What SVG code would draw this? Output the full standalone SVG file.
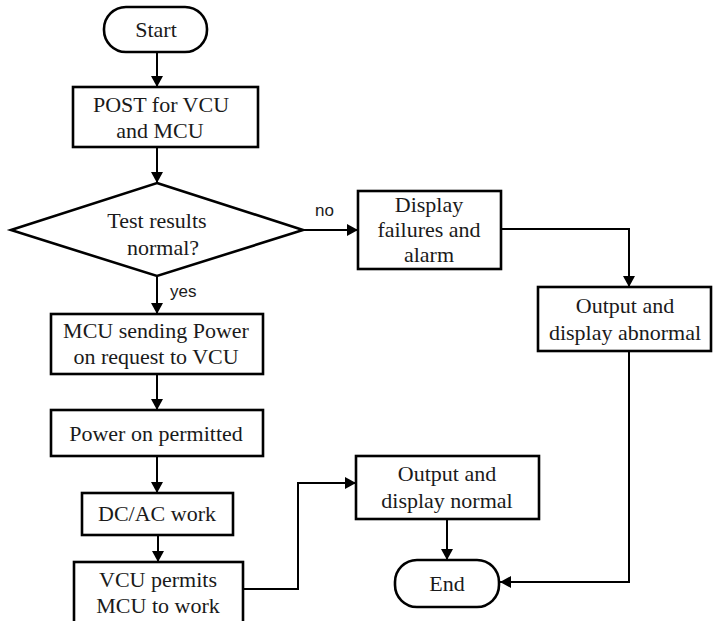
<svg xmlns="http://www.w3.org/2000/svg" width="714" height="621" viewBox="0 0 714 621">
  <style>
    .box { fill: #fff; stroke: #000; stroke-width: 2.6; }
    .lbl { font-family: 'Liberation Serif', 'DejaVu Serif', serif; font-size: 22px; fill: #1a1a1a; text-anchor: middle; }
    .tag { font-family: 'Liberation Sans', 'DejaVu Sans', sans-serif; font-size: 17px; fill: #1a1a1a; }
    .edge { fill: none; stroke: #000; stroke-width: 2; marker-end: url(#arrow); }
  </style>
  <defs>
    <marker id="arrow" markerUnits="userSpaceOnUse" markerWidth="12" markerHeight="12" refX="11" refY="6" orient="auto">
      <path d="M0,0 L11,6 L0,12 z" fill="#000"/>
    </marker>
  </defs>
  <rect width="714" height="621" fill="#fff"/>

  <g id="connectors">
    <path class="edge" d="M157,52 V87"/>
    <path class="edge" d="M157,147 V183"/>
    <path class="edge" d="M303,230 H358"/>
    <path class="edge" d="M157,276 V314"/>
    <path class="edge" d="M157,374 V410"/>
    <path class="edge" d="M157,456 V493"/>
    <path class="edge" d="M158,535 V562"/>
    <path class="edge" d="M501,229 H629 V287"/>
    <path class="edge" d="M243,589 H298 V483 H356"/>
    <path class="edge" d="M447,519 V560"/>
    <path class="edge" d="M629,351 V582 H500"/>
    <text class="tag" x="315" y="216">no</text>
    <text class="tag" x="170" y="297">yes</text>
  </g>

  <g id="start">
    <rect class="box" x="104" y="7" width="103" height="45" rx="22" ry="22"/>
    <text class="lbl" x="156" y="37">Start</text>
  </g>

  <g id="post">
    <rect class="box" x="73" y="87" width="185" height="60"/>
    <text class="lbl" x="161" y="112">POST for VCU</text>
    <text class="lbl" x="160" y="138">and MCU</text>
  </g>

  <g id="test">
    <polygon class="box" points="157,183 303,230 157,276 11,230"/>
    <text class="lbl" x="157" y="228">Test results</text>
    <text class="lbl" x="163" y="255">normal?</text>
  </g>

  <g id="display-failures">
    <rect class="box" x="358" y="191" width="143" height="78"/>
    <text class="lbl" x="429" y="212">Display</text>
    <text class="lbl" x="429" y="237">failures and</text>
    <text class="lbl" x="429" y="262">alarm</text>
  </g>

  <g id="output-abnormal">
    <rect class="box" x="538" y="287" width="173" height="64"/>
    <text class="lbl" x="625" y="313">Output and</text>
    <text class="lbl" x="625" y="340">display abnormal</text>
  </g>

  <g id="power-request">
    <rect class="box" x="51" y="314" width="212" height="60"/>
    <text class="lbl" x="156" y="338">MCU sending Power</text>
    <text class="lbl" x="156" y="364">on request to VCU</text>
  </g>

  <g id="power-permitted">
    <rect class="box" x="51" y="410" width="212" height="46"/>
    <text class="lbl" x="156" y="441">Power on permitted</text>
  </g>

  <g id="dcac">
    <rect class="box" x="82" y="493" width="151" height="42"/>
    <text class="lbl" x="157" y="521">DC/AC work</text>
  </g>

  <g id="vcu-permits">
    <rect class="box" x="74" y="562" width="169" height="70"/>
    <text class="lbl" x="158" y="587">VCU permits</text>
    <text class="lbl" x="158" y="613">MCU to work</text>
  </g>

  <g id="output-normal">
    <rect class="box" x="356" y="456" width="183" height="63"/>
    <text class="lbl" x="447" y="481">Output and</text>
    <text class="lbl" x="447" y="508">display normal</text>
  </g>

  <g id="end">
    <rect class="box" x="395" y="560" width="104" height="47" rx="22" ry="22"/>
    <text class="lbl" x="447" y="591">End</text>
  </g>
</svg>
